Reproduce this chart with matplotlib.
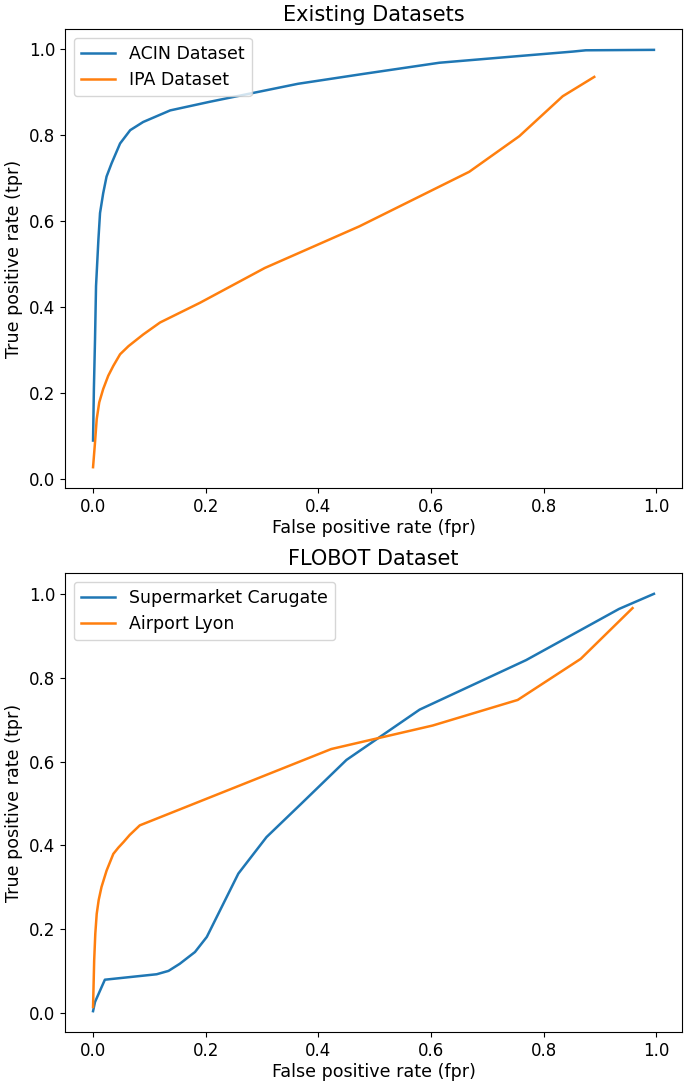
import numpy as np
import matplotlib
matplotlib.use("Agg")
import matplotlib.pyplot as plt

# ROC points
acin_fpr = [0.0, 0.0015, 0.0035, 0.0053, 0.0095, 0.0124, 0.018, 0.024, 0.033, 0.048,
            0.066, 0.089, 0.137, 0.207, 0.278, 0.364, 0.48, 0.615, 0.751, 0.852,
            0.875, 0.996]
acin_tpr = [0.089, 0.21, 0.325, 0.449, 0.557, 0.619, 0.665, 0.704, 0.735, 0.781,
            0.812, 0.831, 0.858, 0.878, 0.897, 0.920, 0.943, 0.969, 0.984, 0.995,
            0.998, 0.999]

ipa_fpr = [0.0, 0.0035, 0.0065, 0.011, 0.018, 0.027, 0.036, 0.048, 0.063, 0.089,
           0.119, 0.19, 0.305, 0.473, 0.668, 0.757, 0.834, 0.890]
ipa_tpr = [0.027, 0.085, 0.139, 0.178, 0.209, 0.24, 0.263, 0.29, 0.309, 0.336,
           0.364, 0.41, 0.491, 0.588, 0.715, 0.798, 0.891, 0.936]

super_fpr = [0.0, 0.0035, 0.021, 0.113, 0.134, 0.154, 0.181, 0.202, 0.258, 0.308,
             0.37, 0.45, 0.580, 0.769, 0.934, 0.996]
super_tpr = [0.005, 0.027, 0.080, 0.093, 0.101, 0.118, 0.146, 0.182, 0.333, 0.42,
             0.50, 0.604, 0.724, 0.842, 0.964, 1.0]

lyon_fpr = [0.0, 0.001, 0.002, 0.004, 0.0065, 0.010, 0.015, 0.024, 0.036, 0.045,
            0.054, 0.065, 0.083, 0.423, 0.603, 0.754, 0.866, 0.958]
lyon_tpr = [0.015, 0.07, 0.126, 0.19, 0.237, 0.27, 0.301, 0.34, 0.38, 0.395,
            0.408, 0.425, 0.448, 0.630, 0.686, 0.747, 0.845, 0.966]

fig = plt.figure(figsize=(6.85, 10.86), dpi=100)
ax1 = fig.add_axes([0.0949, 0.5506, 0.9007, 0.4227])
ax2 = fig.add_axes([0.0949, 0.0497, 0.9007, 0.4227])

def roc_panel(ax, title, series):
    for fpr, tpr, name in series:
        ax.plot(fpr, tpr, lw=1.8, label=name)
    ax.set_title(title, fontsize=15)
    ax.set_xlabel("False positive rate (fpr)", fontsize=12.6, labelpad=2)
    ax.set_ylabel("True positive rate (tpr)", fontsize=12.6)
    ax.tick_params(labelsize=12)
    ax.legend(loc="upper left", fontsize=12.5)

roc_panel(ax1, "Existing Datasets",
          [(acin_fpr, acin_tpr, "ACIN Dataset"), (ipa_fpr, ipa_tpr, "IPA Dataset")])
roc_panel(ax2, "FLOBOT Dataset",
          [(super_fpr, super_tpr, "Supermarket Carugate"), (lyon_fpr, lyon_tpr, "Airport Lyon")])

fig.savefig("out.png", dpi=100)
